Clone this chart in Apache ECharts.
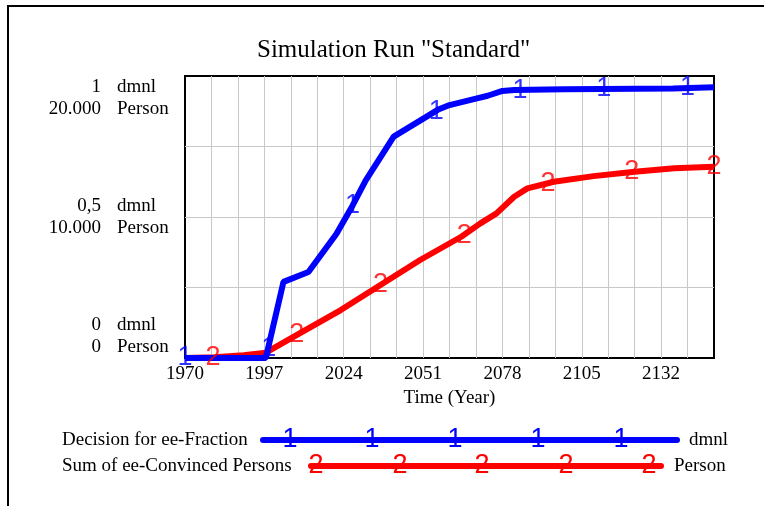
<!DOCTYPE html>
<html>
<head>
<meta charset="utf-8">
<script src="https://cdn.jsdelivr.net/npm/echarts@6/dist/echarts.min.js"></script>
<style>
  html, body { margin: 0; padding: 0; background: #fff; }
  #main { width: 764px; height: 506px; }
</style>
</head>
<body>
<div id="main"></div>
<script>
// Decision for ee-Fraction (dmnl)
const blueYears = [1970, 1997.5, 2003.5, 2012, 2021.5, 2027, 2031.5, 2041, 2056, 2060, 2069, 2073, 2078, 2082, 2099, 2136, 2150];
const blueValues = [0, 0, 0.27, 0.305, 0.44, 0.54, 0.63, 0.785, 0.88, 0.897, 0.92, 0.93, 0.947, 0.95, 0.953, 0.956, 0.96];
const blueMarkYears = [1970, 1998.5, 2027, 2055.5, 2084, 2112.5, 2141];
const blueMarkValues = [0, 0.035, 0.54, 0.875, 0.95, 0.955, 0.958];

// Sum of ee-Convinced Persons (Person)
const redYears = [1970, 1980, 1990, 1997.5, 2009, 2023, 2036.5, 2050, 2064, 2070.5, 2076, 2082, 2086.5, 2095.5, 2109, 2123, 2136.5, 2150];
const redValues = [0, 60, 200, 380, 1750, 3400, 5180, 6950, 8600, 9550, 10260, 11440, 12030, 12500, 12900, 13210, 13450, 13570];
const redMarkYears = [1979.5, 2008, 2036.5, 2065, 2093.5, 2122, 2150];
const redMarkValues = [30, 1650, 5180, 8720, 12400, 13190, 13570];

// tick labels
const dmnlTicks = [0, 0.5, 1];
const dmnlTickLabels = ["0", "0,5", "1"];
const personTickLabels = ["0", "10.000", "20.000"];
const yearTickLabels = [1970, 1997, 2024, 2051, 2078, 2105, 2132];

const serif = "Liberation Serif";
const sans = "Liberation Sans";
const BLUE = "#0000ff";
const RED = "#ff0000";
const DIGIT = 27;

const pairs = (xs, ys) => xs.map((x, i) => [x, ys[i]]);

// end labels sit inside the plot, like Vensim does
const padLabel = (i, lines) => {
  if (i === 2) return ["", "", ...lines].join("\n");
  if (i === 0) return [...lines, "", ""].join("\n");
  return lines.join("\n");
};

const gridLine = { show: true, showMinLine: false, showMaxLine: false, lineStyle: { color: "#c8c8c8", width: 1 } };

const chart = echarts.init(document.getElementById("main"));

const option = {
  animation: false,
  title: {
    text: 'Simulation Run "Standard"',
    left: 252,
    top: 33,
    textStyle: { fontFamily: serif, fontSize: 25, fontWeight: "normal", color: "#000" },
  },
  grid: {
    left: 185, top: 76, right: 50, bottom: 148,
    show: true, borderColor: "#000", borderWidth: 2, backgroundColor: "#fff",
  },
  xAxis: {
    type: "value",
    min: 1970, max: 2150, interval: 9,
    name: "Time (Year)",
    nameLocation: "middle",
    nameGap: 30,
    nameTextStyle: { fontFamily: serif, fontSize: 19, color: "#000" },
    axisLine: { show: false },
    axisTick: { show: false },
    splitLine: gridLine,
    axisLabel: {
      margin: 7,
      fontFamily: serif, fontSize: 19, color: "#000",
      formatter: v => (yearTickLabels.includes(v) ? String(v) : ""),
    },
  },
  yAxis: [
    {
      type: "value",
      min: 0, max: 1, interval: 0.25,
      axisLine: { show: false },
      axisTick: { show: false },
      splitLine: gridLine,
      axisLabel: {
        margin: 84,
        align: "right",
        fontFamily: serif, fontSize: 19, color: "#000", lineHeight: 22,
        formatter: v => {
          const i = dmnlTicks.indexOf(v);
          if (i < 0) return "";
          return padLabel(i, [dmnlTickLabels[i], personTickLabels[i]]);
        },
      },
    },
    {
      type: "value",
      position: "left",
      min: 0, max: 20000, interval: 5000,
      axisLine: { show: false },
      axisTick: { show: false },
      splitLine: { show: false },
      axisLabel: {
        margin: 68,
        align: "left",
        fontFamily: serif, fontSize: 19, color: "#000", lineHeight: 22,
        formatter: v => {
          const i = [0, 10000, 20000].indexOf(v);
          if (i < 0) return "";
          return padLabel(i, ["dmnl", "Person"]);
        },
      },
    },
  ],
  series: [
    {
      name: "Sum of ee-Convinced Persons",
      type: "line",
      yAxisIndex: 1,
      data: pairs(redYears, redValues),
      showSymbol: false,
      clip: false,
      lineStyle: { color: RED, width: 6 },
      z: 2,
    },
    {
      name: "Decision for ee-Fraction",
      type: "line",
      yAxisIndex: 0,
      data: pairs(blueYears, blueValues),
      showSymbol: false,
      clip: false,
      lineStyle: { color: BLUE, width: 6 },
      z: 3,
    },
    {
      type: "scatter",
      yAxisIndex: 1,
      data: pairs(redMarkYears, redMarkValues),
      symbolSize: 1,
      itemStyle: { color: "rgba(0,0,0,0)" },
      label: {
        show: true, position: "inside", formatter: "2", color: RED,
        fontFamily: sans, fontSize: DIGIT, textBorderWidth: 0, textBorderColor: "transparent",
      },
      z: 4,
    },
    {
      type: "scatter",
      yAxisIndex: 0,
      data: pairs(blueMarkYears, blueMarkValues),
      symbolSize: 1,
      itemStyle: { color: "rgba(0,0,0,0)" },
      label: {
        show: true, position: "inside", formatter: "1", color: BLUE,
        fontFamily: sans, fontSize: DIGIT, textBorderWidth: 0, textBorderColor: "transparent",
      },
      z: 5,
    },
  ],
  graphic: [
    // outer frame
    { type: "rect", shape: { x: 8, y: 6, width: 900, height: 700 }, style: { fill: null, stroke: "#000", lineWidth: 2 }, z: -1 },
    // legend row 1
    { type: "text", x: 62, y: 440, style: { text: "Decision for ee-Fraction", font: "19px " + serif, fill: "#000", verticalAlign: "middle" } },
    { type: "line", shape: { x1: 263, y1: 440, x2: 677, y2: 440 }, style: { stroke: BLUE, lineWidth: 6, lineCap: "round" } },
    ...[290, 372, 455, 538, 621].map(x => ({
      type: "text", x, y: 440, style: { text: "1", font: DIGIT + "px " + sans, fill: BLUE, align: "center", verticalAlign: "middle" },
    })),
    { type: "text", x: 689, y: 440, style: { text: "dmnl", font: "19px " + serif, fill: "#000", verticalAlign: "middle" } },
    // legend row 2
    { type: "text", x: 62, y: 466, style: { text: "Sum of ee-Convinced Persons", font: "19px " + serif, fill: "#000", verticalAlign: "middle" } },
    { type: "line", shape: { x1: 311, y1: 466, x2: 661, y2: 466 }, style: { stroke: RED, lineWidth: 6, lineCap: "round" } },
    ...[316, 400, 482, 566, 649].map(x => ({
      type: "text", x, y: 466, style: { text: "2", font: DIGIT + "px " + sans, fill: RED, align: "center", verticalAlign: "middle" },
    })),
    { type: "text", x: 674, y: 466, style: { text: "Person", font: "19px " + serif, fill: "#000", verticalAlign: "middle" } },
  ],
};

chart.setOption(option);
</script>
</body>
</html>
